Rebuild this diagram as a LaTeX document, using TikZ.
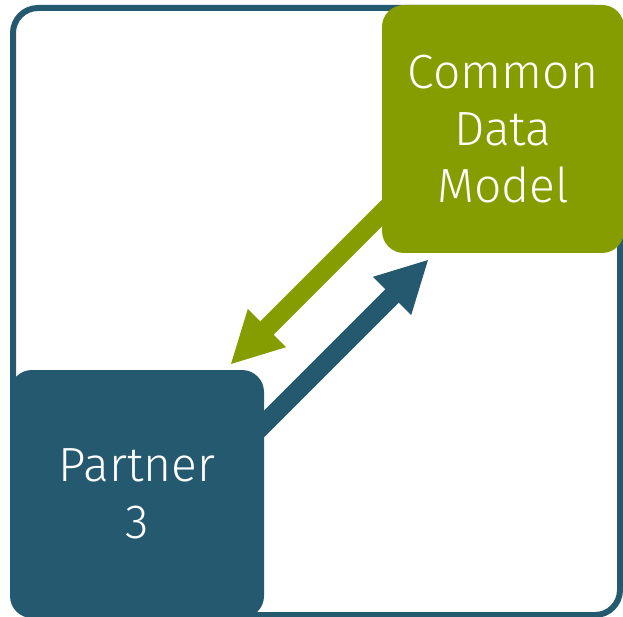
\documentclass[tikz,border=0pt]{standalone}
\usepackage{fontspec}
\setmainfont{Fira Sans Light}
\usetikzlibrary{arrows.meta,backgrounds}
\definecolor{cdmgreen}{HTML}{869D00}
\definecolor{partnerblue}{HTML}{255970}

\begin{document}
\begin{tikzpicture}[x=1pt,y=-1pt,
  box/.style={rectangle, rounded corners=22pt, text=white, align=center,
    font=\fontsize{48}{57}\selectfont, inner sep=0pt},
  flow/.style={line width=19pt, -{Triangle[length=52pt,width=50pt]}}]
  \useasboundingbox (0,0) rectangle (623,617);
  \node (cdm) [box, fill=cdmgreen, minimum width=242pt, minimum height=248pt] at (503,129) {Common\\Data\\Model};
  \node (partner) [box, fill=partnerblue, minimum width=254pt, minimum height=248pt] at (137,494) {Partner\\3};
  \begin{scope}[on background layer]
    \draw[partnerblue, line width=6pt, rounded corners=25pt] (13,8) rectangle (620,615);
    \draw[flow, cdmgreen] ([shift={(18,-58)}]cdm.south west) -- ([shift={(-34,-5)}]partner.north east);
    \draw[flow, partnerblue] ([shift={(-19,73)}]partner.north east) -- ([shift={(47,6)}]cdm.south west);
  \end{scope}
\end{tikzpicture}
\end{document}
